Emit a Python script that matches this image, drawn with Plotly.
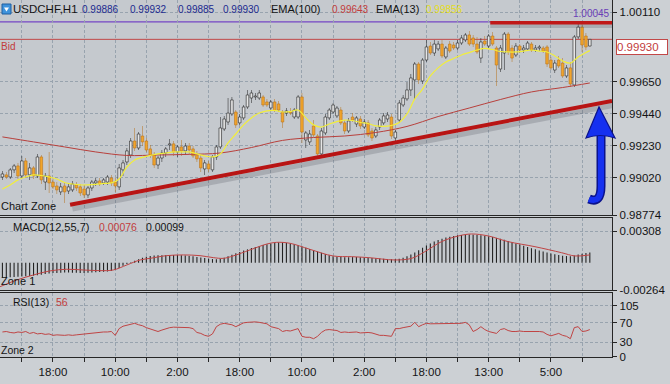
import plotly.graph_objects as go

# ---------------- data ----------------
candle_index = list(range(-13, 139))  # hourly candles, 0 = first "18:00" mark

open_ = [0.99024,0.99038,0.99024,0.99071,0.99097,0.99031,0.99130,0.99038,0.99084,0.99031,0.99156,0.98991,0.99031,
         0.98991,0.98965,0.98926,0.98965,0.98932,0.98939,0.98972,0.98959,0.98945,0.98906,0.98952,0.98985,0.98998,0.98985,0.98991,0.99018,0.98991,
         0.98959,0.99071,0.99123,0.99169,0.99261,0.99215,0.99294,0.99261,0.99209,0.99169,0.99103,0.99149,0.99182,0.99235,0.99242,0.99189,0.99222,
         0.99196,0.99228,0.99209,0.99169,0.99149,0.99077,0.99110,0.99071,0.99156,0.99222,0.99340,0.99386,0.99439,0.99452,0.99380,0.99413,0.99485,
         0.99544,0.99551,0.99544,0.99551,0.99518,0.99478,0.99518,0.99505,0.99452,0.99445,0.99452,0.99419,0.99419,0.99551,0.99268,0.99255,0.99360,
         0.99294,0.99176,0.99314,0.99413,0.99452,0.99426,0.99465,0.99380,0.99327,0.99419,0.99373,0.99406,0.99353,0.99380,0.99327,0.99294,0.99353,
         0.99380,0.99406,0.99419,0.99281,0.99399,0.99498,0.99538,0.99597,0.99663,0.99768,0.99656,0.99794,0.99886,0.99840,0.99867,0.99899,0.99814,
         0.99899,0.99893,0.99873,0.99906,0.99926,0.99959,0.99939,0.99899,0.99807,0.99919,0.99886,0.99952,0.99873,0.99735,0.99840,0.99965,0.99873,
         0.99827,0.99886,0.99860,0.99867,0.99899,0.99860,0.99873,0.99873,0.99880,0.99794,0.99728,0.99794,0.99774,0.99689,0.99742,0.99630,0.99946,
         1.00011,0.99952,0.99886]
high_ = [0.99064,0.99057,0.99084,0.99110,0.99117,0.99163,0.99149,0.99117,0.99097,0.99176,0.99169,0.99051,0.99189,
         0.99018,0.98991,0.98985,0.98985,0.98978,0.98998,0.98991,0.98978,0.98972,0.98965,0.99005,0.99018,0.99018,0.99018,0.99038,0.99038,0.99018,
         0.99110,0.99136,0.99215,0.99281,0.99347,0.99320,0.99360,0.99281,0.99235,0.99189,0.99163,0.99202,0.99222,0.99274,0.99261,0.99235,0.99268,
         0.99248,0.99248,0.99228,0.99196,0.99169,0.99136,0.99130,0.99169,0.99235,0.99419,0.99426,0.99544,0.99551,0.99465,0.99439,0.99498,0.99597,
         0.99597,0.99577,0.99597,0.99564,0.99538,0.99531,0.99538,0.99524,0.99465,0.99478,0.99478,0.99478,0.99564,0.99577,0.99327,0.99334,0.99399,
         0.99307,0.99347,0.99439,0.99478,0.99511,0.99492,0.99485,0.99399,0.99413,0.99445,0.99426,0.99426,0.99406,0.99399,0.99347,0.99353,0.99413,
         0.99445,0.99452,0.99439,0.99334,0.99531,0.99564,0.99650,0.99702,0.99781,0.99781,0.99807,0.99926,0.99913,0.99926,0.99919,0.99926,0.99886,
         0.99919,0.99913,0.99926,0.99959,0.99972,0.99985,0.99959,0.99946,0.99939,0.99952,0.99965,0.99978,0.99886,0.99893,0.99978,0.99978,0.99893,
         0.99906,0.99899,0.99893,0.99919,0.99913,0.99893,0.99893,0.99886,0.99893,0.99814,0.99794,0.99821,0.99807,0.99761,0.99781,0.99959,1.00045,
         1.00031,0.99972,0.99932]
low_ = [0.99005,0.99011,0.99011,0.99051,0.99011,0.99018,0.99018,0.99005,0.99011,0.99018,0.98978,0.98939,0.98919,
        0.98945,0.98913,0.98906,0.98853,0.98913,0.98926,0.98932,0.98899,0.98886,0.98886,0.98932,0.98965,0.98965,0.98972,0.98972,0.98965,0.98926,
        0.98939,0.99031,0.99103,0.99149,0.99196,0.99202,0.99228,0.99189,0.99149,0.99084,0.99077,0.99123,0.99156,0.99202,0.99163,0.99156,0.99163,
        0.99169,0.99176,0.99149,0.99123,0.99057,0.99038,0.99057,0.99057,0.99136,0.99209,0.99327,0.99367,0.99426,0.99347,0.99367,0.99399,0.99472,
        0.99511,0.99531,0.99531,0.99485,0.99485,0.99465,0.99452,0.99452,0.99347,0.99426,0.99432,0.99406,0.99406,0.99248,0.99215,0.99235,0.99288,
        0.99156,0.99163,0.99301,0.99399,0.99439,0.99413,0.99367,0.99307,0.99314,0.99386,0.99353,0.99340,0.99340,0.99288,0.99261,0.99281,0.99334,
        0.99367,0.99386,0.99274,0.99248,0.99380,0.99485,0.99524,0.99557,0.99538,0.99636,0.99636,0.99781,0.99827,0.99821,0.99853,0.99807,0.99801,
        0.99840,0.99860,0.99860,0.99893,0.99913,0.99886,0.99880,0.99834,0.99774,0.99886,0.99873,0.99886,0.99623,0.99715,0.99728,0.99827,0.99781,
        0.99814,0.99840,0.99840,0.99853,0.99847,0.99847,0.99853,0.99840,0.99748,0.99728,0.99709,0.99742,0.99676,0.99676,0.99617,0.99617,0.99932,
        0.99847,0.99860,0.99885]
close_ = [0.99044,0.99024,0.99071,0.99097,0.99031,0.99130,0.99038,0.99084,0.99031,0.99156,0.99005,0.99031,0.98985,
          0.98959,0.98939,0.98959,0.98926,0.98959,0.98978,0.98952,0.98919,0.98906,0.98952,0.98991,0.98998,0.98978,0.99005,0.99024,0.98985,0.98965,
          0.99084,0.99117,0.99196,0.99261,0.99215,0.99307,0.99255,0.99202,0.99169,0.99103,0.99149,0.99182,0.99209,0.99242,0.99189,0.99222,0.99196,
          0.99228,0.99202,0.99163,0.99143,0.99084,0.99117,0.99077,0.99156,0.99222,0.99347,0.99406,0.99445,0.99531,0.99367,0.99419,0.99485,0.99564,
          0.99577,0.99557,0.99577,0.99498,0.99498,0.99518,0.99465,0.99465,0.99386,0.99459,0.99445,0.99465,0.99551,0.99320,0.99314,0.99307,0.99301,
          0.99176,0.99327,0.99419,0.99465,0.99498,0.99478,0.99380,0.99327,0.99393,0.99399,0.99413,0.99360,0.99386,0.99301,0.99281,0.99334,0.99399,
          0.99426,0.99432,0.99294,0.99320,0.99511,0.99544,0.99597,0.99676,0.99768,0.99663,0.99794,0.99880,0.99840,0.99899,0.99899,0.99821,0.99873,
          0.99853,0.99873,0.99906,0.99939,0.99959,0.99899,0.99899,0.99847,0.99913,0.99899,0.99952,0.99899,0.99761,0.99873,0.99965,0.99847,0.99807,
          0.99886,0.99860,0.99873,0.99906,0.99860,0.99873,0.99880,0.99853,0.99768,0.99742,0.99774,0.99755,0.99689,0.99742,0.99636,0.99946,1.00011,
          0.99893,0.99880,0.99930]

ema13_index = [-13,-11,-9,-7,-5,-3,-1,1,3,5,7,9,11,13,15,17,19,21,23,25,27,29,31,33,35,37,39,41,43,45,47,49,51,53,55,57,59,61,63,
               65,67,69,71,73,75,77,79,81,83,85,87,89,91,93,95,97,99,101,103,105,107,109,111,113,115,117,119,121,123,125,127,129,131,133,135,137,138]
ema13_value = [0.98945,0.98972,0.99005,0.99024,0.99038,0.99034,0.99024,0.99011,0.98988,0.98978,0.98972,0.98972,0.98975,0.98982,0.98985,
               0.99011,0.99090,0.99136,0.99153,0.99166,0.99176,0.99182,0.99189,0.99189,0.99189,0.99176,0.99163,0.99156,0.99176,0.99248,0.99307,
               0.99367,0.99413,0.99445,0.99459,0.99462,0.99452,0.99455,0.99465,0.99413,0.99367,0.99353,0.99373,0.99389,0.99399,0.99396,0.99383,
               0.99376,0.99360,0.99357,0.99363,0.99383,0.99439,0.99538,0.99603,0.99689,0.99742,0.99781,0.99804,0.99827,0.99843,0.99860,0.99870,
               0.99863,0.99850,0.99847,0.99847,0.99853,0.99860,0.99853,0.99847,0.99821,0.99788,0.99774,0.99814,0.99843,0.99856]

ema100_index = [-13,-5,3,11,19,27,35,43,51,59,67,75,83,91,99,107,115,123,131,138]
ema100_value = [0.99288,0.99255,0.99222,0.99189,0.99166,0.99169,0.99173,0.99182,0.99218,0.99265,0.99284,0.99294,0.99317,0.99357,
                0.99422,0.99478,0.99534,0.99584,0.99613,0.99643]

macd_hist = [-0.00145,-0.00143,-0.00140,-0.00138,-0.00135,-0.00132,-0.00130,-0.00128,-0.00125,-0.00120,-0.00115,
             -0.00110,-0.00105,-0.00100,-0.00098,-0.00096,-0.00095,-0.00095,-0.00096,-0.00097,-0.00098,-0.00098,-0.00097,-0.00095,-0.00092,
             -0.00090,-0.00088,-0.00085,-0.00080,-0.00070,
             -0.00050,-0.00030,-0.00012,0.00005,0.00020,
             0.00035,0.00048,0.00058,0.00065,0.00070,0.00072,0.00074,0.00075,0.00076,0.00076,0.00075,0.00073,0.00070,0.00066,0.00062,0.00057,
             0.00052,0.00046,0.00040,
             0.00036,0.00034,0.00038,0.00048,0.00062,0.00078,
             0.00092,0.00105,0.00118,0.00130,0.00142,0.00152,0.00162,0.00172,0.00180,0.00188,0.00195,0.00200,
             0.00198,0.00194,0.00188,0.00180,0.00170,0.00158,0.00146,0.00133,0.00120,0.00108,0.00096,0.00084,0.00072,0.00064,
             0.00058,0.00055,0.00054,0.00054,0.00055,0.00055,0.00054,0.00052,0.00050,0.00047,0.00044,0.00041,0.00038,0.00036,0.00035,0.00036,
             0.00040,0.00048,0.00062,0.00080,0.00100,0.00122,0.00145,0.00168,0.00188,0.00205,
             0.00220,0.00233,0.00244,0.00253,0.00260,0.00266,0.00270,0.00272,0.00273,0.00272,0.00270,0.00267,
             0.00262,0.00256,0.00249,0.00241,0.00232,0.00222,0.00211,0.00200,0.00188,0.00176,0.00164,0.00152,0.00141,0.00130,0.00119,
             0.00109,0.00099,0.00090,0.00082,0.00075,0.00069,0.00065,0.00063,
             0.00070,0.00080,0.00088,0.00095,0.00099]

signal_index = [-13.6,-9.3,-5,-0.8,3.5,7.8,12,15.5,19,22.4,25,29.2,33.5,37.8,41.2,43.8,46.3,50.6,55,57.5,60.9,66,72,
                76.8,81.1,87.9,92.2,95.6,99.9,104.2,107.6,111.9,117,123.9,130.7,134.2,138]
signal_value = [-0.00232,-0.00167,-0.00118,-0.00079,-0.00063,-0.00070,-0.00076,-0.00070,-0.00021,0.00027,0.00043,0.00069,
                0.00076,0.00069,0.00050,0.00043,0.00066,0.00124,0.00182,0.00198,0.00189,0.00131,0.00066,0.00059,0.00050,
                0.00027,0.00043,0.00108,0.00205,0.00260,0.00279,0.00260,0.00205,0.00156,0.00098,0.00066,0.00076]

rsi_value = [51,52,50,49,51,50,52,48,50,47,48,46,47,
             44,45,44,44,45,44,45,46,47,48,49,50,50,51,51,52,44,
             58,63,65,67,69,66,64,
             60,57,54,52,
             55,58,60,61,61,60,61,60,58,
             50,48,44,42,47,
             62,67,69,68,66,62,66,
             70,71,72,72,71,70,68,
             62,60,58,52,54,53,55,
             58,42,40,40,37,42,50,
             55,56,55,54,
             50,51,50,50,51,49,50,50,49,
             46,44,44,43,42,58,
             58,60,61,63,71,62,66,
             69,68,68,69,68,68,68,69,68,69,
             71,66,52,56,62,56,52,50,
             48,56,58,54,
             52,52,53,52,52,53,52,52,51,46,
             43,45,48,44,42,37,
             60,62,52,53,56]

time_labels = ["18:00", "10:00", "2:00", "18:00", "10:00", "2:00", "18:00", "13:00", "5:00", "21:00"]
price_ticks = [1.00110, 0.99650, 0.99440, 0.99230, 0.99020, 0.98774]
macd_ticks = [0.00308, -0.00264]
rsi_ticks = [105, 70, 30, 0]

support_index = [4.4, 143.7]
support_price = [0.98841, 0.99525]
resist_index = [112.4, 143.7]
resist_price = [1.00040, 1.00040]
high_mark = 1.00045
bid_price = close_[-1]

for name, arr in [("open", open_), ("high", high_), ("low", low_), ("close", close_),
                  ("macd", macd_hist), ("rsi", rsi_value)]:
    if len(arr) != len(candle_index):
        raise SystemExit(f"{name} has {len(arr)} values")

# ---------------- geometry helpers (layout only) ----------------
W, H = 670, 384
ML, MR, MT, MB = 0, 58, 0, 27
PW, PH = W - ML - MR, H - MT - MB


def px(x):
    return (x - ML) / PW


def py(y):
    return (PH + MT - y) / PH


X_RANGE = [-13.62, 143.7]
GRID = "#98a3ae"
AXC = "#262626"
TXT = "#141414"
RED = "#c23c3c"
FONT = "Liberation Sans"

# ---------------- traces ----------------
bull = [c >= o for o, c in zip(open_, close_)]
body_base = [min(o, c) for o, c in zip(open_, close_)]
body_h = [max(abs(c - o), 0.00003) for o, c in zip(open_, close_)]
wick_h = [h - l for h, l in zip(high_, low_)]
fill = ["#e6e6e6" if b else "#f2a52a" for b in bull]
edge = ["#202020" if b else "#b8741e" for b in bull]

fig = go.Figure()

fig.add_trace(go.Scatter(x=ema100_index, y=ema100_value, mode="lines", line=dict(color="#b8403c", width=1, shape="spline"),
                         xaxis="x", yaxis="y", hoverinfo="skip"))
fig.add_trace(go.Bar(x=candle_index, y=wick_h, base=low_, width=0.13, marker=dict(color=edge, line=dict(width=0)),
                     xaxis="x", yaxis="y"))
fig.add_trace(go.Bar(x=candle_index, y=body_h, base=body_base, width=0.66,
                     marker=dict(color=fill, line=dict(color=edge, width=0.6)), xaxis="x", yaxis="y"))
fig.add_trace(go.Scatter(x=ema13_index, y=ema13_value, mode="lines", line=dict(color="#f2ee3a", width=1.2, shape="spline"),
                         xaxis="x", yaxis="y"))
# trend lines with soft shadow
fig.add_trace(go.Scatter(x=[v + 0.6 for v in support_index], y=[v - 0.00028 for v in support_price], mode="lines",
                         line=dict(color="rgba(70,70,80,0.22)", width=5), xaxis="x", yaxis="y"))
fig.add_trace(go.Scatter(x=support_index, y=support_price, mode="lines", line=dict(color="#b81414", width=4),
                         xaxis="x", yaxis="y"))
fig.add_trace(go.Scatter(x=resist_index, y=[v - 0.00022 for v in resist_price], mode="lines",
                         line=dict(color="rgba(70,70,80,0.22)", width=4), xaxis="x", yaxis="y"))
fig.add_trace(go.Scatter(x=resist_index, y=resist_price, mode="lines", line=dict(color="#c01818", width=3.5),
                         xaxis="x", yaxis="y"))
# MACD
fig.add_trace(go.Bar(x=candle_index, y=macd_hist, width=0.28, marker=dict(color="#222222", line=dict(width=0)),
                     xaxis="x2", yaxis="y2"))
fig.add_trace(go.Scatter(x=signal_index, y=signal_value, mode="lines", line=dict(color="#c04444", width=1, shape="spline"),
                         xaxis="x2", yaxis="y2"))
# RSI
fig.add_trace(go.Scatter(x=candle_index, y=rsi_value, mode="lines", line=dict(color="#c04444", width=1),
                         xaxis="x3", yaxis="y3"))

# ---------------- axes ----------------
grid_vals = list(range(-8, 145, 8))
grid_text = [time_labels[v // 16] if v % 16 == 0 and v >= 0 else "" for v in grid_vals]

xcommon = dict(range=X_RANGE, showgrid=True, gridcolor=GRID, griddash="3px,2px", gridwidth=1, zeroline=False,
               showline=True, linecolor=AXC, linewidth=1.2, mirror=True, tickmode="array", tickvals=grid_vals,
               fixedrange=True)
ycommon = dict(side="right", showgrid=True, gridcolor=GRID, griddash="3px,2px", gridwidth=1, zeroline=False,
               showline=True, linecolor=AXC, linewidth=1.2, ticks="outside", ticklen=4, tickcolor=AXC,
               tickfont=dict(family=FONT, size=11.5, color=TXT), tickmode="array", fixedrange=True)

fig.update_layout(
    width=W, height=H, margin=dict(l=ML, r=MR, t=MT, b=MB),
    paper_bgcolor="#ccd0d4", plot_bgcolor="#c5c9ce",
    showlegend=False, barmode="overlay", hovermode=False,
    xaxis=dict(**xcommon, anchor="y", showticklabels=False, ticks=""),
    xaxis2=dict(**xcommon, anchor="y2", matches="x", showticklabels=False, ticks=""),
    xaxis3=dict(**xcommon, anchor="y3", matches="x", showticklabels=True, ticktext=grid_text, ticks="outside",
                ticklen=4, tickcolor=AXC, tickfont=dict(family=FONT, size=11.5, color=TXT)),
    yaxis=dict(**ycommon, domain=[1 - 215 / PH, 1], range=[0.98774, 1.00189], anchor="x",
               tickvals=price_ticks, ticktext=[f"{v:.5f}" for v in price_ticks]),
    yaxis2=dict(**ycommon, domain=[1 - 290 / PH, 1 - 218 / PH], range=[-0.00264, 0.00434], anchor="x2",
                tickvals=macd_ticks, ticktext=[f"{v:.5f}" for v in macd_ticks]),
    yaxis3=dict(**ycommon, domain=[0, 1 - 293 / PH], range=[-1, 132], anchor="x3",
                tickvals=rsi_ticks, ticktext=[str(v) for v in rsi_ticks]),
)

# ---------------- shapes ----------------
shapes = []
shapes.append(dict(type="line", xref="paper", yref="y", x0=0, x1=1, y0=high_mark, y1=high_mark,
                   line=dict(color="#7446c4", width=1.2), layer="below"))
shapes.append(dict(type="line", xref="paper", yref="y", x0=0, x1=1, y0=bid_price, y1=bid_price,
                   line=dict(color="#c24848", width=1), layer="below"))
# symbol icon
shapes.append(dict(type="rect", xref="paper", yref="paper", x0=px(2), x1=px(11), y0=py(14), y1=py(4),
                   fillcolor="#3f93dc", line=dict(color="#1f5ea0", width=1)))
shapes.append(dict(type="path", xref="paper", yref="paper",
                   path=f"M {px(4)} {py(7.5)} L {px(9)} {py(7.5)} L {px(6.5)} {py(11.5)} Z",
                   fillcolor="white", line=dict(width=0)))


def pth(points):
    cmds = []
    for c, *xy in points:
        pts = " ".join(f"{px(xy[i])} {py(xy[i + 1])}" for i in range(0, len(xy), 2))
        cmds.append(f"{c} {pts}")
    return " ".join(cmds)


# blue hand-drawn arrow
shaft = pth([("M", 601, 135), ("L", 601, 186), ("Q", 601, 204, 589, 199)])
shapes.append(dict(type="path", xref="paper", yref="paper", path=shaft, fillcolor="rgba(0,0,0,0)",
                   line=dict(color="#0a128c", width=9)))
shapes.append(dict(type="path", xref="paper", yref="paper", path=shaft, fillcolor="rgba(0,0,0,0)",
                   line=dict(color="#1530f0", width=6)))
head = pth([("M", 586, 138), ("L", 599, 107), ("L", 615, 138), ("Q", 600, 133, 586, 138)])
shapes.append(dict(type="path", xref="paper", yref="paper", path=head + " Z", fillcolor="#1530f0",
                   line=dict(color="#0a128c", width=1.2)))
fig.update_layout(shapes=shapes)

# ---------------- texts ----------------
ann = []


def label(x, y, text, color=TXT, size=11, xanchor="left"):
    ann.append(dict(xref="paper", yref="paper", x=px(x), y=py(y), text=text, showarrow=False,
                    xanchor=xanchor, yanchor="middle", borderpad=0,
                    font=dict(family=FONT, size=size, color=color)))


NAVY = "#1c2a8e"
label(12, 9, "USDCHF,H1", size=11.5)
label(81, 9, f"{open_[-1]:.5f}", NAVY, size=10)
label(129, 9, f"{high_[-1]:.5f}", NAVY, size=10)
label(177, 9, f"{low_[-1]:.5f}", NAVY, size=10)
label(222, 9, f"{close_[-1]:.5f}", NAVY, size=10)
label(270, 9, "EMA(100)", size=11)
label(331, 9, f"{ema100_value[-1]:.5f}", RED, size=10)
label(375, 9, "EMA(13)", size=11)
label(425, 9, f"{ema13_value[-1]:.5f}", "#e6de1c", size=10)
label(611, 14, f"{high_mark:.5f}", "#6a3eb8", size=10, xanchor="right")
label(0, 47, "Bid", RED, size=10)
label(0, 206, "Chart Zone", size=11)
label(12, 227, "MACD(12,55,7)", size=11)
label(98, 227, f"{signal_value[-1]:.5f}", RED, size=10.5)
label(145, 227, f"{macd_hist[-1]:.5f}", size=10.5)
label(0, 281, "Zone 1", size=11)
label(12, 302, "RSI(13)", size=10.5)
label(55, 302, str(rsi_value[-1]), RED, size=10.5)
label(0, 350, "Zone 2", size=10.5)

# bid price box on the axis
ann.append(dict(xref="paper", yref="y", x=px(616), y=bid_price, text=f"{bid_price:.5f}", showarrow=False,
                xanchor="left", yanchor="top", align="left", width=50, height=14, bgcolor="#ffffff",
                bordercolor="#c24848", borderwidth=1, borderpad=0,
                font=dict(family=FONT, size=11.5, color="#c23c3c")))
fig.update_layout(annotations=ann)

fig.write_html("out.html", config={"displayModeBar": False, "staticPlot": True},
               post_script="document.body.style.margin='0px';document.body.style.background='#ccd0d4';")
